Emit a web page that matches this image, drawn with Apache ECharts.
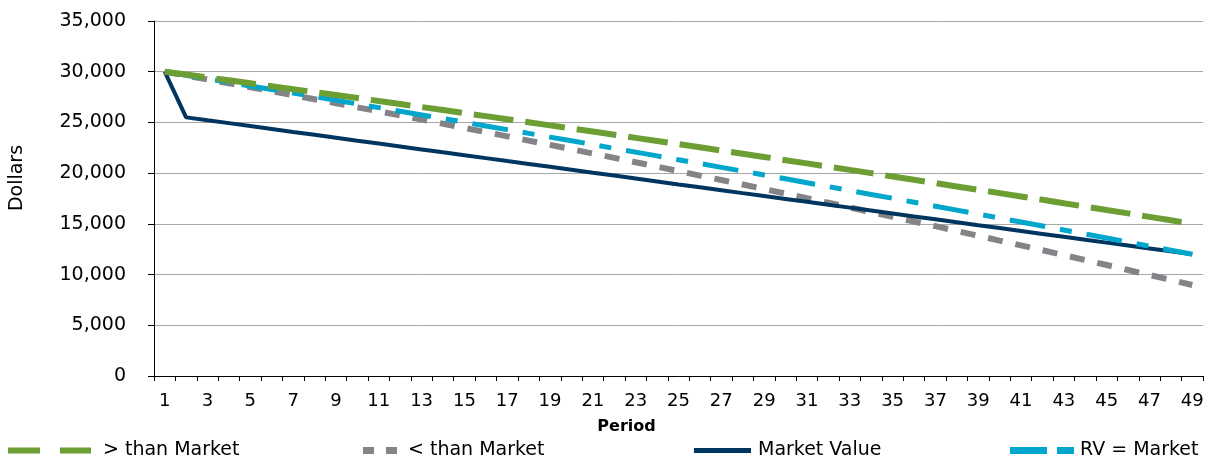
<!DOCTYPE html>
<html>
<head>
<meta charset="utf-8">
<title>Residual value vs market value</title>
<script src="https://cdn.jsdelivr.net/npm/echarts@6/dist/echarts.min.js"></script>
<style>
  html, body { margin: 0; padding: 0; background: #ffffff; }
  #chart { width: 1212px; height: 462px; }
</style>
</head>
<body>
<div id="chart"></div>
<script>
// Periods 1..49
const periods = ['1','2','3','4','5','6','7','8','9','10','11','12','13','14','15','16','17','18','19','20',
  '21','22','23','24','25','26','27','28','29','30','31','32','33','34','35','36','37','38','39','40',
  '41','42','43','44','45','46','47','48','49'];

// Residual value higher than market
const aboveMarket = [30000,29720,29430,29150,28860,28570,28280,27990,27700,27410,
  27110,26820,26520,26220,25920,25620,25320,25020,24710,24410,
  24100,23790,23480,23170,22860,22550,22230,21920,21600,21280,
  20960,20640,20320,20000,19670,19350,19020,18690,18360,18030,
  17700,17370,17030,16700,16360,16030,15690,15350,15000];

// Residual value lower than market
const belowMarket = [30000,29620,29240,28850,28470,28080,27680,27290,26890,26490,
  26090,25690,25280,24870,24460,24040,23630,23210,22790,22360,
  21930,21510,21070,20640,20200,19760,19320,18880,18430,17980,
  17530,17080,16620,16160,15700,15230,14770,14300,13830,13350,
  12880,12400,11920,11430,10940,10450,9960,9470,8970];

// Actual market value
const marketValue = [30000,25500,25210,24930,24640,24350,24060,23780,23490,23200,
  22920,22630,22340,22050,21770,21480,21190,20910,20620,20330,
  20040,19760,19470,19180,18890,18610,18320,18030,17750,17460,
  17170,16880,16600,16310,16020,15730,15450,15160,14870,14590,
  14300,14010,13720,13440,13150,12860,12570,12290,12000];

// Residual value equal to market
const rvEqualMarket = [30000,29650,29300,28950,28600,28250,27890,27540,27180,26820,
  26460,26100,25740,25380,25020,24650,24290,23920,23550,23190,
  22820,22440,22070,21700,21320,20950,20570,20190,19820,19440,
  19050,18670,18290,17900,17520,17130,16740,16350,15960,15570,
  15180,14790,14390,14000,13600,13200,12800,12400,12000];

const seriesNames = ['> than Market', '< than Market', 'Market Value', 'RV = Market'];
const seriesColors = ['#6c9e34', '#848488', '#00355f', '#00a6cb'];

const FONT = '"DejaVu Sans", Verdana, sans-serif';

const chart = echarts.init(document.getElementById('chart'), null, { renderer: 'canvas' });

// One legend block per series so each can sit at its own spot along the bottom
function legendFor(name, left, iconPath, w, h, pad) {
  return {
    data: [{ name: name, icon: iconPath }],
    left: left,
    top: 441,
    padding: 0,
    itemWidth: w,
    itemHeight: h,
    selectedMode: false,
    textStyle: { color: '#000', fontSize: 19, fontFamily: FONT, padding: [0, 0, 0, pad] }
  };
}

const option = {
  animation: false,
  backgroundColor: '#ffffff',
  grid: { left: 153, right: 9, top: 21, bottom: 86, containLabel: false },
  legend: [
    legendFor(seriesNames[0], 8, 'path://M0,0h32v6h-32z M52,0h31v6h-31z', 83, 6, 7),
    legendFor(seriesNames[1], 363, 'path://M0,0h11v7h-11z M23,0h11v7h-11z', 34, 7, 6),
    legendFor(seriesNames[2], 694, 'path://M0,0h57v5h-57z', 57, 5, 2),
    legendFor(seriesNames[3], 1010, 'path://M0,0h37v7h-37z M47,0h17v7h-17z', 64, 7, 1)
  ],
  xAxis: {
    type: 'category',
    data: periods,
    boundaryGap: true,
    name: 'Period',
    nameLocation: 'middle',
    nameGap: 43,
    nameTextStyle: { color: '#000', fontSize: 16, fontWeight: 'bold', fontFamily: FONT, padding: [0, 104, 0, 0] },
    axisLine: { show: true, lineStyle: { color: '#000', width: 1 } },
    axisTick: { show: true, interval: 0, length: 5, lineStyle: { color: '#000' } },
    axisLabel: { interval: 1, color: '#000', fontSize: 18, fontFamily: FONT, margin: 16 },
    splitLine: { show: false }
  },
  yAxis: {
    type: 'value',
    min: 0,
    max: 35000,
    interval: 5000,
    name: 'Dollars',
    nameLocation: 'middle',
    nameGap: 127,
    nameRotate: 90,
    nameTextStyle: { color: '#000', fontSize: 19, fontFamily: FONT, padding: [0, 0, 0, 41] },
    axisLine: { show: true, lineStyle: { color: '#000', width: 1 } },
    axisTick: { show: true, length: 6, lineStyle: { color: '#000' } },
    axisLabel: {
      color: '#000', fontSize: 19, fontFamily: FONT, margin: 28,
      formatter: v => v.toLocaleString('en-US')
    },
    splitLine: { show: true, lineStyle: { color: '#a8a8a8', width: 1 } }
  },
  series: [
    {
      name: seriesNames[1], type: 'line', data: belowMarket, symbol: 'none',
      color: seriesColors[1],
      lineStyle: { color: seriesColors[1], width: 6, type: [15, 13], cap: 'butt' }
    },
    {
      name: seriesNames[2], type: 'line', data: marketValue, symbol: 'none',
      color: seriesColors[2],
      lineStyle: { color: seriesColors[2], width: 4, type: 'solid' }
    },
    {
      name: seriesNames[3], type: 'line', data: rvEqualMarket, symbol: 'none',
      color: seriesColors[3],
      lineStyle: { color: seriesColors[3], width: 5, type: [36, 15, 12, 15], cap: 'butt' }
    },
    {
      name: seriesNames[0], type: 'line', data: aboveMarket, symbol: 'none',
      color: seriesColors[0],
      lineStyle: { color: seriesColors[0], width: 6, type: [40, 12], cap: 'butt' }
    }
  ]
};

chart.setOption(option);
</script>
</body>
</html>
